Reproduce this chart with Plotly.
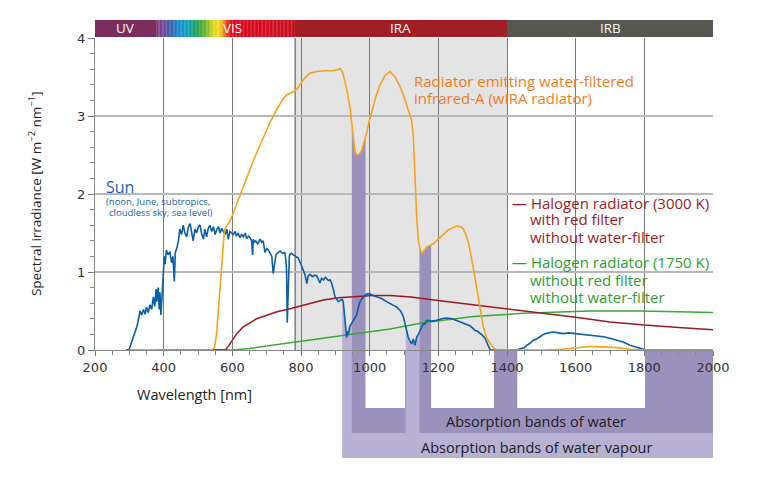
import numpy as np
import plotly.graph_objects as go

# sun, noon June subtropics, cloudless sky, sea level
sun_nm = [290, 299, 305, 310, 316, 322, 328, 331, 336, 341, 346, 350, 355, 360, 365, 370, 374, 378, 380, 384,
          387, 389, 392, 394, 397, 399, 402, 404, 408, 413, 418, 423, 427, 431, 434, 438, 443, 447, 452, 457,
          462, 467, 472, 477, 482, 486, 491, 496, 501, 506, 511, 516, 520, 525, 530, 535, 540, 545, 550, 555,
          560, 564, 569, 574, 579, 584, 588, 593, 598, 603, 608, 612, 617, 622, 627, 632, 637, 642, 647, 652,
          656, 659, 661, 664, 668, 674, 681, 686, 690, 695, 700, 705, 710, 715, 719, 722, 727, 733, 739, 746,
          753, 756, 758, 760, 762, 764, 766, 768, 773, 778, 785, 792, 800, 807, 812, 817, 821, 826, 833, 840,
          846, 851, 855, 860, 866, 871, 875, 880, 885, 889, 894, 899, 904, 909, 915, 920, 923, 927, 930, 933,
          936, 938, 942, 947, 952, 957, 962, 967, 972, 978, 986, 993, 1001, 1010, 1020, 1035, 1049, 1064, 1079, 1090,
          1098, 1105, 1112, 1117, 1122, 1127, 1132, 1137, 1142, 1147, 1152, 1156, 1161, 1166, 1180, 1195, 1210, 1224, 1240, 1253,
          1263, 1273, 1283, 1292, 1300, 1307, 1314, 1321, 1328, 1336, 1341, 1346, 1351, 1360, 1400, 1428, 1440, 1450, 1457, 1465,
          1475, 1486, 1496, 1506, 1520, 1535, 1550, 1564, 1580, 1603, 1620, 1642, 1660, 1681, 1700, 1719, 1740, 1758, 1780, 1797,
          1805, 1900, 2000]
sun_val = [0, 0, 0.08, 0.15, 0.22, 0.30, 0.42, 0.50, 0.45, 0.52, 0.46, 0.55, 0.48, 0.58, 0.52, 0.68, 0.56, 0.78, 0.62, 0.80,
           0.52, 0.74, 0.45, 0.62, 0.95, 1.05, 1.20, 1.10, 1.28, 1.22, 1.26, 1.12, 1.20, 0.88, 1.25, 1.30, 1.40, 1.55, 1.48, 1.60,
           1.50, 1.45, 1.58, 1.62, 1.50, 1.40, 1.55, 1.50, 1.58, 1.60, 1.48, 1.42, 1.55, 1.45, 1.56, 1.60, 1.52, 1.58, 1.48, 1.55,
           1.58, 1.50, 1.56, 1.52, 1.48, 1.55, 1.42, 1.52, 1.50, 1.48, 1.52, 1.46, 1.50, 1.44, 1.48, 1.45, 1.50, 1.43, 1.46, 1.44,
           1.40, 1.22, 1.42, 1.38, 1.40, 1.36, 1.42, 1.38, 1.40, 1.25, 1.30, 1.28, 1.24, 1.20, 0.98, 1.10, 1.22, 1.25, 1.27, 1.24,
           1.25, 1.15, 1.02, 0.35, 0.60, 1.05, 1.20, 1.23, 1.24, 1.22, 1.20, 1.18, 1.10, 1.02, 0.96, 0.85, 0.95, 0.97, 0.94, 0.96,
           0.95, 0.90, 0.86, 0.92, 0.90, 0.93, 0.91, 0.89, 0.90, 0.86, 0.78, 0.68, 0.65, 0.62, 0.64, 0.65, 0.62, 0.45, 0.30, 0.16,
           0.24, 0.20, 0.30, 0.34, 0.38, 0.42, 0.45, 0.55, 0.62, 0.66, 0.70, 0.72, 0.72, 0.70, 0.68, 0.66, 0.62, 0.59, 0.55, 0.50,
           0.43, 0.30, 0.17, 0.12, 0.08, 0.14, 0.06, 0.17, 0.20, 0.25, 0.30, 0.34, 0.33, 0.38, 0.37, 0.38, 0.40, 0.41, 0.40, 0.38,
           0.36, 0.34, 0.33, 0.31, 0.28, 0.25, 0.24, 0.22, 0.19, 0.15, 0.10, 0.03, 0.0, 0.0, 0.0, 0.0, 0.02, 0.03, 0.06, 0.08,
           0.12, 0.14, 0.17, 0.20, 0.22, 0.23, 0.22, 0.21, 0.22, 0.21, 0.20, 0.19, 0.18, 0.17, 0.15, 0.13, 0.10, 0.06, 0.03, 0.01,
           0.0, 0.0, 0.0]

# wIRA radiator
wira_nm = [300, 540, 548, 554, 560, 566, 572, 577, 585, 593, 603, 613, 622, 632, 641, 651, 670, 690, 710, 729,
           745, 758, 770, 782, 790, 797, 810, 826, 846, 870, 890, 904, 914, 922, 928, 935, 943, 948, 952, 957,
           962, 970, 977, 984, 991, 998, 1006, 1018, 1030, 1045, 1059, 1074, 1088, 1100, 1112, 1122, 1127, 1132, 1137, 1142,
           1147, 1153, 1160, 1166, 1175, 1185, 1205, 1229, 1253, 1265, 1273, 1280, 1288, 1295, 1302, 1310, 1317, 1324, 1331, 1340,
           1351, 1360, 1370, 1500, 1560, 1600, 1640, 1680, 1720, 1760, 1800, 2000]
wira_val = [0, 0, 0.03, 0.20, 0.55, 0.95, 1.35, 1.54, 1.60, 1.65, 1.76, 1.88, 1.98, 2.09, 2.20, 2.31, 2.52, 2.73, 2.92, 3.08,
            3.20, 3.27, 3.30, 3.32, 3.36, 3.40, 3.48, 3.55, 3.57, 3.58, 3.58, 3.59, 3.61, 3.55, 3.45, 3.30, 3.10, 2.90, 2.68, 2.55,
            2.50, 2.51, 2.56, 2.66, 2.78, 2.92, 3.05, 3.25, 3.40, 3.52, 3.57, 3.50, 3.38, 3.25, 3.08, 2.95, 2.75, 2.20, 1.70, 1.40,
            1.28, 1.24, 1.28, 1.32, 1.34, 1.36, 1.44, 1.54, 1.59, 1.58, 1.55, 1.48, 1.37, 1.22, 1.05, 0.84, 0.64, 0.45, 0.30, 0.16,
            0.08, 0.03, 0.0, 0.0, 0.01, 0.03, 0.045, 0.04, 0.03, 0.01, 0.0, 0.0]

# halogen 3000 K with red filter
red_nm = [380, 580, 590, 600, 613, 630, 651, 670, 690, 730, 768, 820, 865, 910, 962, 1010, 1059, 1120, 1205, 1300,
          1400, 1500, 1600, 1700, 1800, 1900, 2000]
red_val = [0, 0, 0.06, 0.13, 0.21, 0.29, 0.35, 0.40, 0.43, 0.49, 0.53, 0.59, 0.64, 0.67, 0.69, 0.70, 0.70, 0.68, 0.63, 0.58,
           0.53, 0.47, 0.42, 0.36, 0.32, 0.29, 0.26]

# halogen 1750 K
green_nm = [290, 600, 650, 700, 768, 865, 962, 1059, 1156, 1302, 1447, 1550, 1642, 1788, 1900, 2000]
green_val = [0, 0, 0.02, 0.05, 0.09, 0.15, 0.21, 0.27, 0.35, 0.43, 0.47, 0.49, 0.50, 0.50, 0.49, 0.48]

# absorption bands [nm]
water_bands = [(948, 988), (1145, 1179), (1362, 1430), (1802, 2000)]
vapour_bands = [(920, 948), (1105, 1145)]
regions = [('UV', 200, 380), ('VIS', 380, 780), ('IRA', 780, 1400), ('IRB', 1400, 2000)]

DARK = '#9b91bd'
LIGHT = '#b8b1d4'
FONT = 'Open Sans'

fig = go.Figure()


def band_fill(xs, ys, a, b, color):
    xs = np.array(xs, float)
    ys = np.array(ys, float)
    m = (xs > a) & (xs < b)
    px = [a] + list(xs[m]) + [b, b, a]
    py = [np.interp(a, xs, ys)] + list(ys[m]) + [np.interp(b, xs, ys), 0, 0]
    fig.add_trace(go.Scatter(x=px, y=py, fill='toself', fillcolor=color, mode='lines',
                             line=dict(width=0), hoverinfo='skip', showlegend=False))


for a, b in vapour_bands:
    band_fill(sun_nm, sun_val, a, b, LIGHT)
for a, b in water_bands:
    band_fill(wira_nm, wira_val, a, b, DARK)

fig.add_trace(go.Scatter(x=green_nm, y=green_val, mode='lines', line=dict(color='#3aaa35', width=1.5), showlegend=False))
fig.add_trace(go.Scatter(x=red_nm, y=red_val, mode='lines', line=dict(color='#9b1b23', width=1.5), showlegend=False))
fig.add_trace(go.Scatter(x=sun_nm, y=sun_val, mode='lines', line=dict(color='#0a5fa8', width=1.6), showlegend=False))
fig.add_trace(go.Scatter(x=wira_nm, y=wira_val, mode='lines', line=dict(color='#f7a21b', width=1.6), showlegend=False))

shapes = []
# IRA shaded area
shapes.append(dict(type='rect', xref='x', yref='paper', x0=780, x1=1400, y0=0, y1=1,
                   fillcolor='#e4e4e4', line_width=0, layer='below'))
shapes.append(dict(type='line', xref='x', yref='paper', x0=783, x1=783, y0=0, y1=1,
                   line=dict(color='#555', width=1), layer='below'))

# top region bar
band_cols = {'UV': '#7b2d5e', 'IRA': '#a21e25', 'IRB': '#565750'}
for name, a, b in regions:
    if name in band_cols:
        shapes.append(dict(type='rect', xref='x', yref='paper', x0=a, x1=b, y0=1.003, y1=1.058,
                           fillcolor=band_cols[name], line_width=0, layer='below'))
stop_nm = [380, 395, 420, 445, 470, 495, 520, 545, 560, 572, 585, 600, 780]
stop_col = ['#7d3b7a', '#7b4596', '#3f5fb0', '#1a8ed0', '#12a0c0', '#1fa25e', '#66b22e', '#d8d820',
            '#f4e21a', '#f3a21c', '#e8331c', '#e1061d', '#c9101f']
rgb = np.array([[int(c[i:i + 2], 16) for i in (1, 3, 5)] for c in stop_col], float)
for s in range(380, 780, 4):
    c = [int(np.interp(s + 2, stop_nm, rgb[:, k])) for k in range(3)]
    shapes.append(dict(type='rect', xref='x', yref='paper', x0=s, x1=s + 4.6, y0=1.003, y1=1.058,
                       fillcolor='rgb(%d,%d,%d)' % tuple(c), line_width=0, layer='below'))

# absorption bands below the axis
y_white, y_dark, y_light = -0.186, -0.266, -0.346
shapes.append(dict(type='rect', xref='x', yref='paper', x0=vapour_bands[0][0], x1=2000, y0=y_light, y1=0,
                   fillcolor=LIGHT, line_width=0, layer='below'))
shapes.append(dict(type='rect', xref='x', yref='paper', x0=water_bands[0][0], x1=2000, y0=y_dark, y1=0,
                   fillcolor=DARK, line_width=0, layer='below'))
shapes.append(dict(type='rect', xref='x', yref='paper', x0=vapour_bands[1][0], x1=vapour_bands[1][1], y0=y_dark, y1=0,
                   fillcolor=LIGHT, line_width=0, layer='below'))
for a, b in [(988, 1103), (1179, 1362), (1430, 1802)]:
    shapes.append(dict(type='rect', xref='x', yref='paper', x0=a, x1=b, y0=y_white, y1=0,
                       fillcolor='white', line_width=0, layer='below'))

ann = []


def label(x, y, text, size, color, xref='x', yref='y', xanchor='left', **kw):
    ann.append(dict(x=x, y=y, xref=xref, yref=yref, xanchor=xanchor, yanchor='middle', text=text,
                    showarrow=False, font=dict(family=FONT, size=size, color=color), **kw))


band_centers = {'UV': 290, 'VIS': 600, 'IRA': 1090, 'IRB': 1700}
for name, a, b in regions:
    label(band_centers[name], 1.031, name, 13.5, '#f6f6f6', yref='paper', xanchor='center')

ORANGE_T, BLUE_T, RED_T, GREEN_T = '#ef7d22', '#1565b0', '#9b1b23', '#2ea02e'
label(1124, 3.45, 'Radiator emitting water-filtered', 15, ORANGE_T)
label(1124, 3.23, 'infrared-A (wIRA radiator)', 15, ORANGE_T)
label(227, 2.09, 'Sun', 16, BLUE_T)
label(227, 1.90, '(noon, June, subtropics,', 9.5, BLUE_T)
label(235, 1.765, 'cloudless sky, sea level)', 9.5, BLUE_T)
label(1410, 1.888, '— Halogen radiator (3000 K)', 15, RED_T)
label(1462, 1.679, 'with red filter', 15, RED_T)
label(1462, 1.453, 'without water-filter', 15, RED_T)
label(1410, 1.132, '— Halogen radiator (1750 K)', 15, GREEN_T)
label(1462, 0.897, 'without red filter', 15, GREEN_T)
label(1462, 0.676, 'without water-filter', 15, GREEN_T)
label(1484, -0.228, 'Absorption bands of water', 14.5, '#222', yref='paper', xanchor='center')
label(1487, -0.311, 'Absorption bands of water vapour', 14.5, '#222', yref='paper', xanchor='center')
label(491, -0.144, 'Wavelength [nm]', 14.5, '#222', yref='paper', xanchor='center')
label(-0.097, 0.5, 'Spectral irradiance [W m<sup>−2</sup> nm<sup>−1</sup>]', 13.5, '#222',
      xref='paper', yref='paper', xanchor='center', textangle=-90)

fig.update_layout(
    width=760, height=469,
    margin=dict(l=87, r=55, t=30, b=127),
    paper_bgcolor='white', plot_bgcolor='white',
    shapes=shapes, annotations=ann,
    showlegend=False,
)
fig.update_xaxes(range=[200, 2000], tickvals=list(range(200, 2001, 200)), ticks='outside', ticklen=5,
                 tickcolor='#777', minor=dict(dtick=50, ticks='outside', ticklen=4, tickcolor='#888'),
                 showgrid=True, gridcolor='#7a7a7a', gridwidth=1, showline=True, linecolor='#888',
                 zeroline=False, automargin=False,
                 tickfont=dict(family='DejaVu Sans', size=13, color='#333'))
fig.update_yaxes(range=[0, 4], dtick=1, ticks='outside', ticklen=6, tickcolor='#777',
                 minor=dict(dtick=0.2, ticks='outside', ticklen=4, tickcolor='#888'),
                 showgrid=True, gridcolor='#b8b8b8', gridwidth=1.5, showline=True, linecolor='#888',
                 zeroline=False, automargin=False,
                 tickfont=dict(family='DejaVu Sans', size=13, color='#333'))

fig.write_html("out.html")
